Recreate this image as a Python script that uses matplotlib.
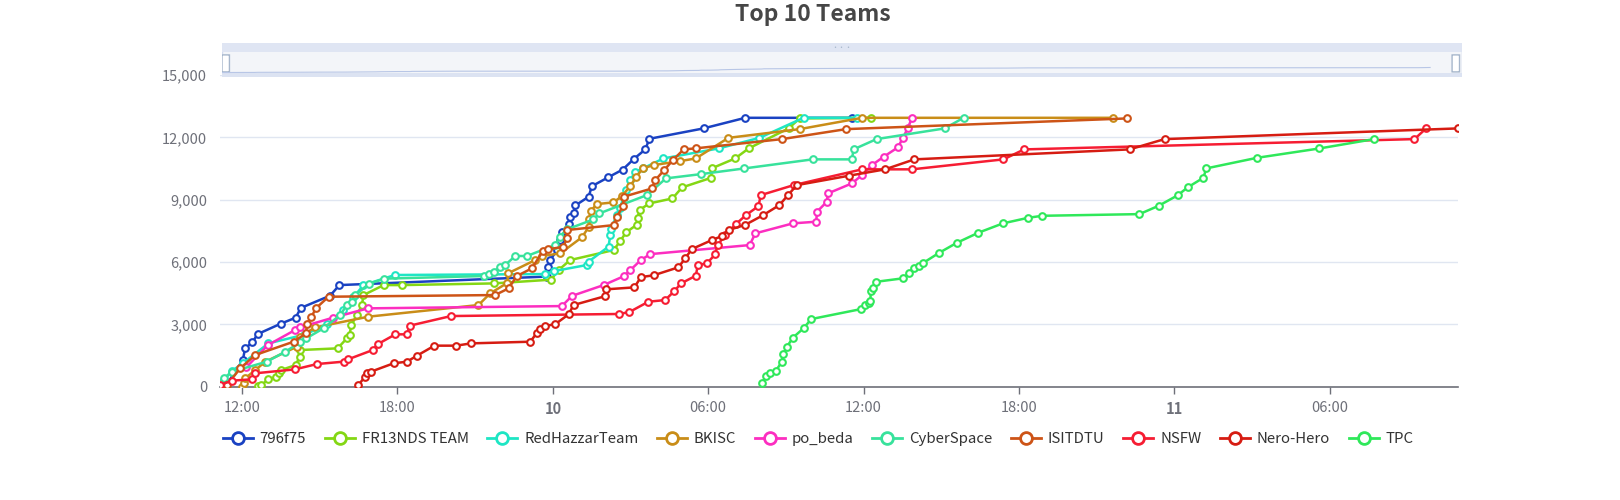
import matplotlib
matplotlib.use('Agg')
import matplotlib.pyplot as plt
from matplotlib.lines import Line2D
from matplotlib.patches import FancyBboxPatch, Rectangle

plt.rcParams['font.family'] = ['Noto Sans CJK SC', 'DejaVu Sans']

# times are hours counted from day 9 00:00 (24 = day 10 00:00)
teams = ['796f75', 'FR13NDS TEAM', 'RedHazzarTeam', 'BKISC', 'po_beda',
         'CyberSpace', 'ISITDTU', 'NSFW', 'Nero-Hero', 'TPC']
colors = ['#1a42c2', '#84d714', '#1ee6c4', '#c98d18', '#fc2ec0',
          '#38e29c', '#cd5417', '#f61d33', '#d61c12', '#2fe85a']

t_796f75 = [11.35, 12.03, 12.12, 12.4, 12.6, 13.49, 14.07, 14.27, 15.4, 15.76, 23.77, 23.83, 23.9, 24.16,
            24.29, 24.35, 24.64, 24.67, 24.8, 24.87, 25.38, 25.51, 26.13, 26.7, 27.12, 27.57, 27.73,
            29.82, 31.43, 35.55]
s_796f75 = [0, 1280, 1850, 2130, 2530, 3030, 3320, 3790, 4380, 4890, 5300, 5770, 6100, 6570,
            7050, 7450, 7830, 8180, 8340, 8720, 9140, 9650, 10070, 10450, 10950, 11420, 11930,
            12430, 12940, 12940]

t_fr13nds = [12.6, 12.74, 13.02, 13.32, 13.41, 13.5, 14.08, 14.22, 14.25, 15.69, 16.05, 16.15, 16.22,
             16.44, 16.63, 16.69, 17.47, 18.17, 21.71, 23.93, 24.22, 24.67, 26.35, 26.61, 26.83,
             27.25, 27.27, 27.35, 27.73, 28.62, 28.99, 30.12, 30.13, 31.04, 31.56, 33.1, 33.53, 36.29]
s_fr13nds = [50, 80, 355, 480, 645, 800, 1045, 1445, 1765, 1845, 2330, 2485, 2970,
             3450, 3930, 4410, 4890, 4890, 4970, 5150, 5610, 6095, 6575, 7025, 7430,
             7800, 8100, 8510, 8820, 9060, 9590, 10055, 10505, 10985, 11465, 12430, 12910, 12940]

t_redhazzar = [11.3, 11.6, 12.03, 13.02, 14.4, 15.3, 15.9, 16.3, 16.69, 17.9, 23.71, 24.03, 25.31,
               25.38, 26.15, 26.22, 26.24, 26.47, 26.6, 26.73, 26.83, 26.99, 27.18, 27.48, 28.27,
               30.4, 31.98, 33.68, 35.74]
s_redhazzar = [300, 750, 1125, 2087, 2500, 3000, 3700, 4300, 4890, 5375, 5420, 5560, 5855,
               6015, 6740, 7300, 7570, 8260, 8580, 9140, 9460, 9940, 10340, 10505, 10985,
               11465, 11975, 12940, 12940]

t_bkisc = [12.0, 12.06, 12.12, 12.51, 12.9, 14.12, 14.22, 14.83, 16.88, 21.13, 21.58, 22.25, 22.27,
           23.32, 23.58, 24.29, 25.12, 25.38, 25.4, 25.47, 25.7, 26.34, 26.67, 26.99, 27.22, 27.48,
           27.89, 28.92, 29.52, 30.78, 33.53, 35.94, 45.62]
s_bkisc = [0, 160, 400, 800, 1205, 1925, 2405, 2855, 3370, 3930, 4490, 5000, 5455,
           6095, 6287, 6417, 7186, 7667, 8050, 8466, 8788, 8870, 9172, 9654, 10100, 10505,
           10665, 10857, 10985, 11975, 12395, 12940, 12940]

t_pobeda = [12.16, 13.0, 14.05, 14.25, 15.51, 16.86, 24.35, 24.74, 25.96, 26.73, 26.99, 27.4, 27.76,
            31.6, 31.82, 33.27, 34.17, 34.2, 34.58, 34.62, 35.55, 35.94, 36.32, 36.77, 37.32, 37.52,
            37.7, 37.87]
s_pobeda = [930, 2005, 2730, 2860, 3320, 3770, 3880, 4370, 4890, 5310, 5610, 6095, 6380,
            6815, 7380, 7860, 7940, 8420, 8900, 9300, 9785, 10185, 10665, 11060, 11515, 11975,
            12430, 12940]

t_cyberspace = [11.16, 11.29, 11.61, 12.96, 13.67, 14.25, 14.48, 15.15, 15.79, 16.05, 16.24, 16.37,
                16.9, 17.5, 21.33, 21.53, 21.72, 21.97, 22.16, 22.55, 23.0, 24.09, 24.26, 24.54,
                25.57, 25.8, 27.63, 28.37, 29.72, 31.4, 34.03, 35.55, 35.61, 36.5, 39.13, 39.86]
s_cyberspace = [190, 400, 720, 1205, 1685, 2135, 2330, 2810, 3450, 3930, 4090, 4410,
                4950, 5200, 5325, 5420, 5530, 5770, 5855, 6290, 6290, 6815, 7215, 7570,
                8050, 8340, 9220, 10025, 10230, 10505, 10940, 10940, 11420, 11915, 12430, 12940]

t_isitdtu = [11.42, 11.93, 12.51, 13.99, 14.48, 14.5, 14.67, 14.85, 15.34, 21.77, 22.29, 22.61,
             23.19, 23.62, 23.83, 24.41, 24.54, 24.56, 26.38, 26.47, 26.71, 26.73, 27.83, 27.96,
             28.3, 28.64, 29.05, 29.52, 32.85, 35.32, 46.17]
s_isitdtu = [80, 885, 1525, 2165, 2570, 3015, 3335, 3770, 4330, 4410, 4730, 5325,
             5695, 6530, 6610, 6735, 7140, 7540, 7780, 8180, 8690, 9140, 9540, 9945,
             10425, 10905, 11420, 11470, 11915, 12395, 12910]

t_nsfw = [11.13, 11.61, 12.38, 12.51, 14.05, 14.89, 15.92, 16.09, 17.05, 17.25, 17.92, 18.37, 18.47,
          20.07, 26.57, 26.96, 27.69, 28.34, 28.69, 28.95, 29.52, 29.6, 29.95, 30.27, 30.36, 30.66,
          31.07, 31.46, 31.94, 32.03, 33.3, 35.94, 37.87, 41.4, 42.2, 57.27, 57.72]
s_nsfw = [80, 290, 355, 645, 835, 1090, 1205, 1315, 1765, 2055, 2520, 2520, 2935,
          3400, 3500, 3595, 4090, 4170, 4600, 4970, 5340, 5850, 5935, 6370, 6815, 7300,
          7826, 8260, 8690, 9220, 9700, 10460, 10460, 10940, 11420, 11915, 12430]

t_nerohero = [16.49, 16.75, 16.82, 16.97, 17.85, 18.37, 18.75, 19.43, 20.27, 20.84, 23.13, 23.39,
              23.5, 23.71, 24.1, 24.61, 24.8, 26.03, 26.05, 27.15, 27.4, 27.89, 28.85, 29.11, 29.37,
              30.14, 30.53, 30.79, 31.43, 32.1, 32.75, 33.08, 33.42, 35.42, 36.83, 37.96, 46.27,
              47.62, 58.95]
s_nerohero = [80, 480, 645, 720, 1125, 1205, 1490, 1975, 1975, 2085, 2165, 2600,
              2800, 2920, 3015, 3480, 3930, 4360, 4685, 4780, 5275, 5360, 5745, 6175, 6625,
              7055, 7250, 7540, 7790, 8240, 8740, 9220, 9700, 10150, 10460, 10940, 11420,
              11915, 12430]

t_tpc = [32.07, 32.24, 32.39, 32.62, 32.84, 32.9, 33.04, 33.27, 33.68, 33.98, 35.9, 36.06, 36.19,
         36.26, 36.28, 36.38, 36.49, 37.52, 37.77, 37.93, 38.12, 38.31, 38.92, 39.6, 40.43, 41.38,
         42.36, 42.9, 46.65, 47.39, 48.12, 48.51, 49.12, 49.23, 51.19, 53.6, 55.71]
s_tpc = [165, 515, 675, 770, 1205, 1555, 1925, 2360, 2810, 3255, 3735, 3930, 4010,
         4140, 4620, 4730, 5050, 5215, 5485, 5725, 5805, 5965, 6445, 6925, 7410, 7860,
         8130, 8225, 8305, 8705, 9205, 9590, 10055, 10505, 11015, 11465, 11915]

times = [t_796f75, t_fr13nds, t_redhazzar, t_bkisc, t_pobeda,
         t_cyberspace, t_isitdtu, t_nsfw, t_nerohero, t_tpc]
scores = [s_796f75, s_fr13nds, s_redhazzar, s_bkisc, s_pobeda,
          s_cyberspace, s_isitdtu, s_nsfw, s_nerohero, s_tpc]

x_ticks = [12, 18, 24, 30, 36, 42, 48, 54]
x_labels = ['12:00', '18:00', '10', '06:00', '12:00', '18:00', '11', '06:00']
y_ticks = [0, 3000, 6000, 9000, 12000, 15000]

W, H = 1620, 500
fig = plt.figure(figsize=(W / 100, H / 100), dpi=100)
left, right, top, bottom = 219.5, 1458, 75, 386.7
ax = fig.add_axes([left / W, 1 - bottom / H, (right - left) / W, (bottom - top) / H])

for name, c, t, s in zip(teams, colors, times, scores):
    ax.plot(t, s, '-o', color=c, lw=1.8, ms=4.8, mfc='white', mec=c, mew=1.5,
            label=name, zorder=3)

tmin = min(min(t) for t in times)
tmax = max(max(t) for t in times)
ax.set_xlim(tmin, tmax)
ax.set_ylim(0, 15000)
ax.set_yticks(y_ticks)
ax.set_yticklabels([f'{v:,}' for v in y_ticks])
ax.set_xticks(x_ticks)
ax.set_xticklabels(x_labels)
for lab, txt in zip(ax.get_xticklabels(), x_labels):
    if ':' not in txt:
        lab.set_fontweight('bold')
ax.tick_params(axis='y', length=0, pad=9, labelsize=10.5, labelcolor='#6e7079')
ax.tick_params(axis='x', length=5, width=1, color='#6e7079', pad=5,
               labelsize=10.5, labelcolor='#6e7079')
ax.grid(axis='y', color='#e0e6f1', lw=1)
ax.set_axisbelow(True)
for sp in ['top', 'right', 'left']:
    ax.spines[sp].set_visible(False)
ax.spines['bottom'].set_color('#6e7079')
ax.spines['bottom'].set_linewidth(1.2)

# data zoom slider on top
sx0, sx1, sy0, sy1 = 222, 1462, 43, 77
sax = fig.add_axes([sx0 / W, 1 - sy1 / H, (sx1 - sx0) / W, (sy1 - sy0) / H])
sax.set_xlim(0, 1)
sax.set_ylim(0, 1)
sax.axis('off')
sax.add_patch(Rectangle((0, 0), 1, 1, fc='#f3f5f9', ec='#d2dbee', lw=1))
sax.add_patch(Rectangle((0, 0.73), 1, 0.27, fc='#dfe5f3', ec='none'))
sax.add_patch(Rectangle((0, 0), 1, 0.13, fc='#dce3f2', ec='none'))
shadow_x = [(v - tmin) / (tmax - tmin) for v in t_nsfw]
shadow_y = [0.13 + 0.6 * v / max(s_nsfw) * 0.25 for v in s_nsfw]
sax.plot(shadow_x, shadow_y, color='#b8c6e6', lw=0.8)
for hx in [0.003, 0.995]:
    sax.add_patch(FancyBboxPatch((hx - 0.003, 0.15), 0.006, 0.5,
                                 boxstyle='round,pad=0,rounding_size=0.002',
                                 fc='white', ec='#a7b7cc', lw=1))
sax.text(0.5, 0.86, '···', ha='center', va='center', fontsize=5, color='#a7b7cc')

fig.text(0.502, 1 - 15 / H, 'Top 10 Teams', ha='center', va='center',
         fontsize=16.5, fontweight='bold', color='#464646')

handles = [Line2D([0], [0], color=c, lw=2, marker='o', ms=8.5, mfc='white', mec=c, mew=2)
           for c in colors]
fig.legend(handles, teams, loc='center', bbox_to_anchor=(0.505, 1 - 439 / H), ncol=10,
           frameon=False, fontsize=10.8, handlelength=2.0, handletextpad=0.45,
           columnspacing=1.25, labelcolor='#333333')

fig.savefig('out.png', dpi=100)
